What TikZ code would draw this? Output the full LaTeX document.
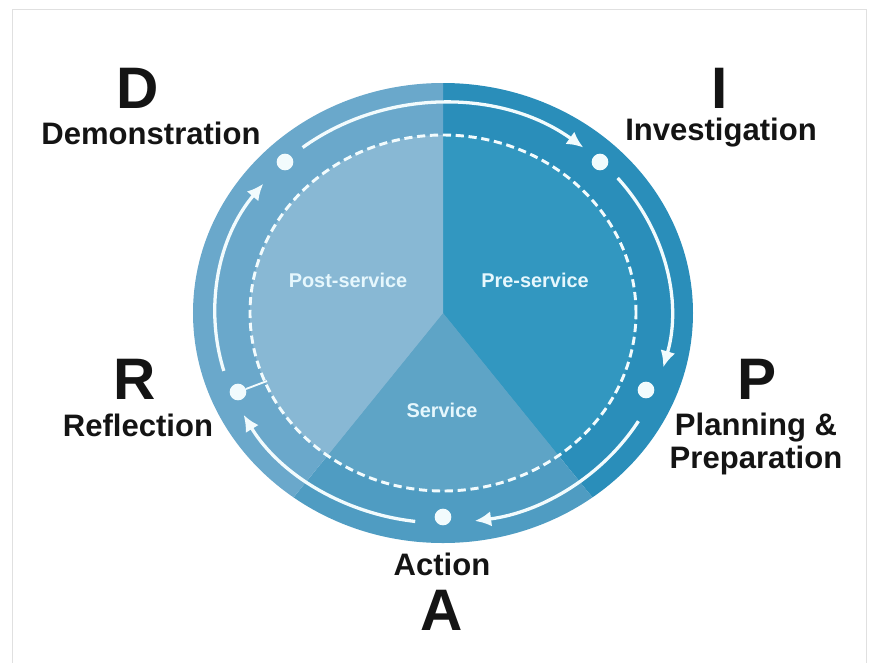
\documentclass[tikz,border=0pt]{standalone}
\usepackage{fontspec}
\setmainfont{Liberation Sans}
\usetikzlibrary{arrows.meta}

\definecolor{postring}{HTML}{6AA8CB}
\definecolor{postfill}{HTML}{88B8D4}
\definecolor{prering}{HTML}{2A8EBA}
\definecolor{prefill}{HTML}{3297C0}
\definecolor{servring}{HTML}{4F9CC2}
\definecolor{servfill}{HTML}{5EA4C6}
\definecolor{trackwhite}{HTML}{F2FBFD}

\begin{document}
\begin{tikzpicture}[x=0.03cm, y=0.03cm,
    bigletter/.style={font=\fontsize{50}{50}\selectfont\bfseries, text=black!92},
    steplabel/.style={font=\fontsize{26.5}{27.5}\selectfont\bfseries, text=black!92, align=center},
    phase/.style={font=\fontsize{17}{18}\selectfont\bfseries, text=white!90!cyan},
    dot/.style={circle, fill=trackwhite, inner sep=0pt, minimum size=0.5cm},
    flow/.style={trackwhite, line width=2.8pt, -{Latex[length=14pt,width=13pt]}}]

    \useasboundingbox (-443,-350) rectangle (428,313);
    \draw[black!12, line width=0.8pt] (-431,-350) -- (-431,304) -- (423,304) -- (423,-350);

    % The outer ring
    \begin{scope}
        \clip (0,0) ellipse [x radius=250, y radius=230];
        \fill[prering] (0,0) -- (0,300) -- (300,300) -- (300,-311) -- (252,-311) -- cycle;
        \fill[servring] (0,0) -- (252,-311) -- (-252,-311) -- cycle;
        \fill[postring] (0,0) -- (-252,-311) -- (-300,-311) -- (-300,300) -- (0,300) -- cycle;
    \end{scope}

    % The three phases
    \begin{scope}
        \clip (0,0) ellipse [x radius=193, y radius=178];
        \fill[prefill] (0,0) -- (0,300) -- (300,300) -- (300,-311) -- (252,-311) -- cycle;
        \fill[servfill] (0,0) -- (252,-311) -- (-252,-311) -- cycle;
        \fill[postfill] (0,0) -- (-252,-311) -- (-300,-311) -- (-300,300) -- (0,300) -- cycle;
    \end{scope}
    \draw[trackwhite, line width=2.5pt, dash pattern=on 7pt off 4pt] (0,0) ellipse [x radius=193, y radius=178];

    \node[phase] (post) at (-95,33) {Post-service};
    \node[phase] (pre) at (92,33) {Pre-service};
    \node[phase] (serv) at (-1,-97) {Service};

    % The cycle
    \draw[flow] (128:228 and 210) arc[start angle=128, end angle=52, x radius=228, y radius=210];
    \draw[flow] (40:228 and 210) arc[start angle=40, end angle=-15, x radius=228, y radius=210];
    \draw[flow] (-31:228 and 210) arc[start angle=-31, end angle=-82, x radius=228, y radius=210];
    \draw[flow] (-97:228 and 210) arc[start angle=-97, end angle=-151, x radius=228, y radius=210];
    \draw[flow] (196:228 and 210) arc[start angle=196, end angle=142, x radius=228, y radius=210];

    \foreach \name/\pos in {dD/{(-158,151)}, dI/{(157,151)}, dP/{(203,-77)}, dA/{(0,-204)}, dR/{(-205,-79)}}
        \node[dot] (\name) at \pos {};
    \coordinate (rtick) at (-176,-68);
    \draw[trackwhite, line width=1.6pt] (dR) -- (rtick);

    % The steps
    \node[bigletter] (D) at (-305,225) {D};
    \node[steplabel] (demo) at (-292,180) {Demonstration};
    \node[bigletter] (I) at (277,225) {I};
    \node[steplabel] (inv) at (278,180) {Investigation};
    \node[bigletter] (P) at (314,-66) {P};
    \node[steplabel] (plan) at (313,-131) {Planning \&\\Preparation};
    \node[bigletter] (A) at (-1,-297) {A};
    \node[steplabel] (act) at (-1,-251) {Action};
    \node[bigletter] (R) at (-308,-66) {R};
    \node[steplabel] (refl) at (-305,-112) {Reflection};
\end{tikzpicture}
\end{document}
